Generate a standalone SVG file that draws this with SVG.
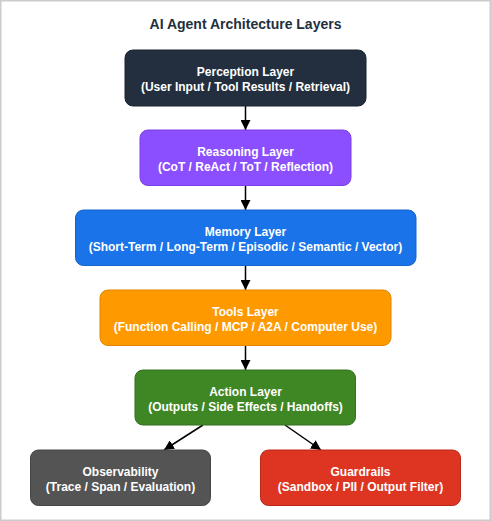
<svg xmlns="http://www.w3.org/2000/svg" width="491" height="521" viewBox="0 0 491 521">
<defs>
<marker id="ah" viewBox="0 0 10 10" refX="10" refY="5" markerWidth="10" markerHeight="10" markerUnits="userSpaceOnUse" orient="auto">
<path d="M0,0 L10,5 L0,10 Z" fill="#000"/>
</marker>
<style>
.t{font-family:"Liberation Sans",Arial,sans-serif;font-weight:bold;font-size:12px;fill:#fff;text-anchor:middle}
.title{font-family:"Liberation Sans",Arial,sans-serif;font-weight:bold;font-size:14px;fill:#232f3e;text-anchor:middle}
.c{stroke:#000;stroke-width:1.5;fill:none;marker-end:url(#ah)}
</style>
</defs>
<rect x="0" y="0" width="491" height="521" fill="#fff"/>
<rect x="0.75" y="0.75" width="489.5" height="519.5" fill="none" stroke="#cccccc" stroke-width="1.5"/>
<text class="title" x="245.5" y="29">AI Agent Architecture Layers</text>
<g id="connectors">
<line class="c" x1="245.5" y1="106" x2="245.5" y2="130"/>
<line class="c" x1="245.5" y1="186" x2="245.5" y2="210"/>
<line class="c" x1="245.5" y1="266" x2="245.5" y2="290"/>
<line class="c" x1="245.5" y1="346" x2="245.5" y2="370"/>
<line class="c" x1="203" y1="425" x2="164" y2="450"/>
<line class="c" x1="285" y1="425" x2="321" y2="450"/>
</g>
<g id="perception">
<rect x="125" y="50" width="241" height="56" rx="8" fill="#232f3e" stroke="#1b2430"/>
<text class="t" x="245.5" y="75.5">Perception Layer</text>
<text class="t" x="245.5" y="90.5">(User Input / Tool Results / Retrieval)</text>
</g>
<g id="reasoning">
<rect x="140" y="130" width="211" height="55.5" rx="8" fill="#8c4fff" stroke="#7a3fe6"/>
<text class="t" x="245.5" y="155.5">Reasoning Layer</text>
<text class="t" x="245.5" y="170.5">(CoT / ReAct / ToT / Reflection)</text>
</g>
<g id="memory">
<rect x="75.5" y="210" width="340.5" height="55.5" rx="8" fill="#1a73e8" stroke="#1565c8"/>
<text class="t" x="245.5" y="235.5">Memory Layer</text>
<text class="t" x="245.5" y="250.5">(Short-Term / Long-Term / Episodic / Semantic / Vector)</text>
</g>
<g id="tools">
<rect x="100" y="290" width="291" height="55.5" rx="8" fill="#ff9900" stroke="#e08600"/>
<text class="t" x="245.5" y="315.5">Tools Layer</text>
<text class="t" x="245.5" y="330.5">(Function Calling / MCP / A2A / Computer Use)</text>
</g>
<g id="action">
<rect x="135" y="370" width="220.5" height="55" rx="8" fill="#3f8624" stroke="#34701d"/>
<text class="t" x="245.5" y="395.5">Action Layer</text>
<text class="t" x="245.5" y="410.5">(Outputs / Side Effects / Handoffs)</text>
</g>
<g id="observability">
<rect x="30.5" y="450" width="180" height="55.5" rx="8" fill="#545454" stroke="#444"/>
<text class="t" x="120.5" y="475.5">Observability</text>
<text class="t" x="120.5" y="490.5">(Trace / Span / Evaluation)</text>
</g>
<g id="guardrails">
<rect x="260.5" y="450" width="200" height="55.5" rx="8" fill="#dd3522" stroke="#b8291a"/>
<text class="t" x="360.5" y="475.5">Guardrails</text>
<text class="t" x="360.5" y="490.5">(Sandbox / PII / Output Filter)</text>
</g>
</svg>
